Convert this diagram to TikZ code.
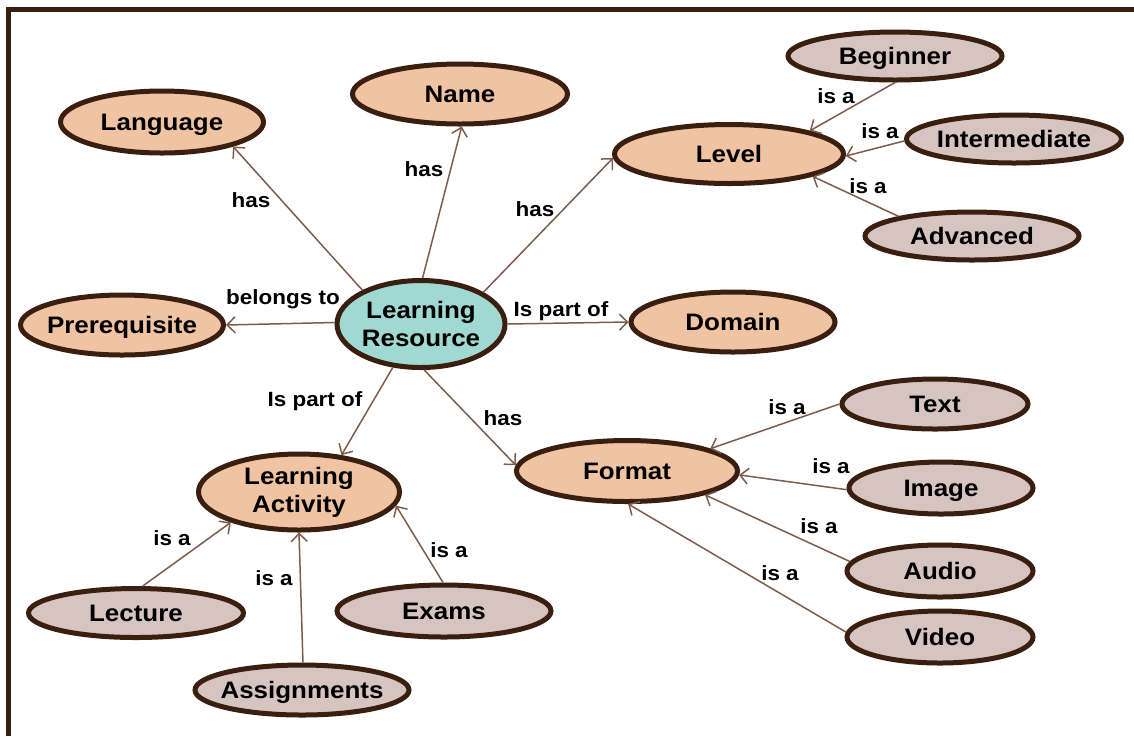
\documentclass[tikz,border=0pt]{standalone}
\usepackage{fontspec}
\setmainfont{Liberation Sans}[FakeStretch=1.09]
\usetikzlibrary{shapes.geometric,arrows.meta}
\definecolor{peach}{HTML}{F0C3A2}
\definecolor{lrfill}{HTML}{A0D8D2}
\definecolor{greyfill}{HTML}{D6C4C0}
\definecolor{dkbrown}{HTML}{3A1E0F}
\definecolor{edgec}{HTML}{7D5C4C}
\begin{document}
\begin{tikzpicture}[x=0.5pt,y=-0.5pt,
  ell/.style={ellipse, draw=dkbrown, line width=2.5pt, inner ysep=0pt, inner xsep=-4pt,
    font=\fontsize{11.9}{14}\selectfont\bfseries, align=center},
  one/.style={text height=8.5pt, text depth=0pt},
  mainnode/.style={ell, fill=peach},
  subnode/.style={ell, fill=greyfill, one},
  lbl/.style={font=\fontsize{10.3}{12}\selectfont\bfseries, inner sep=1pt},
  rel/.style={draw=edgec, line width=0.75pt, -{Straight Barb[length=4pt,width=8pt]}}]
\useasboundingbox (0,0) rectangle (1134,736);
% frame
\draw[dkbrown, line width=2.5pt] (8.5,736) -- (8.5,9.5) -- (1134,9.5);

% nodes
\node[ell, fill=lrfill, minimum width=84pt, minimum height=43.5pt] (lr) at (421,324) {Learning\\Resource};
\node[mainnode, one, minimum width=101.5pt, minimum height=31pt] (lang) at (162,122) {Language};
\node[mainnode, one, minimum width=107.5pt, minimum height=30pt] (name) at (460,94) {Name};
\node[mainnode, one, minimum width=114.5pt, minimum height=29.5pt] (level) at (729,154) {Level};
\node[mainnode, one, minimum width=101.5pt, minimum height=30pt] (prereq) at (122,325) {Prerequisite};
\node[mainnode, one, minimum width=102pt, minimum height=30pt] (domain) at (733,322) {Domain};
\node[mainnode, one, minimum width=110.5pt, minimum height=30.5pt] (format) at (627,471) {Format};
\node[mainnode, minimum width=100.5pt, minimum height=38pt] (la) at (299,492) {Learning\\Activity};

\node[subnode, minimum width=107pt, minimum height=24pt] (beg) at (895,56) {Beginner};
\node[subnode, minimum width=107.5pt, minimum height=24pt] (inter) at (1014,139) {Intermediate};
\node[subnode, minimum width=107pt, minimum height=24pt] (adv) at (972,236) {Advanced};
\node[subnode, minimum width=93pt, minimum height=25pt] (text) at (935,404) {Text};
\node[subnode, minimum width=92pt, minimum height=26pt] (image) at (941,488) {Image};
\node[subnode, minimum width=93pt, minimum height=26pt] (audio) at (940,571) {Audio};
\node[subnode, minimum width=93pt, minimum height=26pt] (video) at (940,637) {Video};
\node[subnode, minimum width=107.5pt, minimum height=24.5pt] (lecture) at (136,613) {Lecture};
\node[subnode, minimum width=107pt, minimum height=25pt] (assign) at (302,690) {Assignments};
\node[subnode, minimum width=107pt, minimum height=26pt] (exams) at (444,611) {Exams};

% connectors
\draw[rel] (lr.150) -- (lang.-19);
\draw[rel] (lr.88) -- (name.-87);
\draw[rel] (lr.27) -- (level.182);
\draw[rel] (lr.179) -- (prereq.0);
\draw[rel] (lr.0) -- (domain.180);
\draw[rel] (lr.237) -- (la.41);
\draw[rel] (lr.274) -- (format.177);

\draw[rel] (beg.-90) -- (level.16);
\draw[rel] (inter.181) -- (level.-1);
\draw[rel] (adv.165) -- (level.-15);

\draw[rel] (text.180) -- (format.15);
\draw[rel] (image.181) -- (format.-2);
\draw[rel] (audio.174) -- (format.-17);
\draw[rel] (video.177) -- (format.-88);

\draw[rel] (lecture.76) -- (la.204);
\draw[rel] (assign.88) -- (la.-90);
\draw[rel] (exams.92) -- (la.-8);

% labels
\node[lbl] (l1) at (251,200) {has};
\node[lbl] (l2) at (424,169) {has};
\node[lbl] (l3) at (535,209) {has};
\node[lbl] (l4) at (283,299) {belongs to};
\node[lbl] (l5) at (561,311) {Is part of};
\node[lbl] (l6) at (315,401) {Is part of};
\node[lbl] (l7) at (503,418) {has};
\node[lbl] (l8) at (836,96) {is a};
\node[lbl] (l9) at (880,131) {is a};
\node[lbl] (l10) at (868,186) {is a};
\node[lbl] (l11) at (787,407) {is a};
\node[lbl] (l12) at (831,466) {is a};
\node[lbl] (l13) at (819,526) {is a};
\node[lbl] (l14) at (780,573) {is a};
\node[lbl] (l15) at (172,538) {is a};
\node[lbl] (l16) at (274,578) {is a};
\node[lbl] (l17) at (449,550) {is a};
\end{tikzpicture}
\end{document}
